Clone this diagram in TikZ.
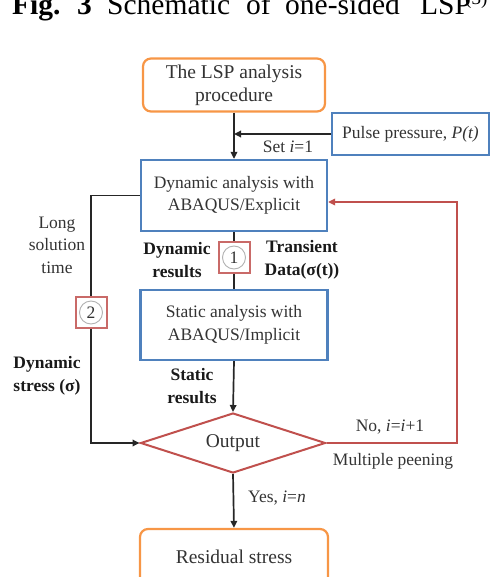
\documentclass[tikz,border=0pt]{standalone}
\usepackage{fontspec}
\setmainfont{Liberation Serif}
\usetikzlibrary{arrows.meta,shapes.geometric}
\definecolor{boxorange}{HTML}{F79646}
\definecolor{boxblue}{HTML}{4F81BD}
\definecolor{boxred}{HTML}{C0504D}
\definecolor{txt}{HTML}{333333}
\definecolor{linec}{HTML}{262626}
\newcommand\fntS{\fontsize{17.5}{22.5}\selectfont}
\newcommand\fntL{\fontsize{19.5}{23}\selectfont}
\newcommand\fntT{\fontsize{29.5}{32}\selectfont}
\begin{document}
\begin{tikzpicture}[x=1pt,y=-1pt,
  rbox/.style={draw=boxorange, line width=2.2pt, rounded corners=8pt, fill=white, text=txt, align=center, inner sep=0pt, font=\fntL},
  bbox/.style={draw=boxblue, line width=2.2pt, fill=white, text=txt, align=center, inner sep=0pt, font=\fntS},
  numbox/.style={draw=boxred!85, line width=2pt, fill=white, minimum width=31pt, minimum height=31pt, inner sep=0pt},
  numcirc/.style={circle, draw=gray!60, line width=0.9pt, minimum size=23pt, inner sep=0pt, text=txt, font=\fntS},
  conn/.style={draw=linec, line width=1.7pt},
  arr/.style={conn, -{Triangle[length=7pt,width=6.5pt]}},
  rarr/.style={draw=boxred, line width=1.9pt, -{Triangle[length=7pt,width=6.5pt]}},
  lbl/.style={text=txt, align=center, font=\fntS, inner sep=0pt},
  blbl/.style={text=black!90, align=center, font=\fntS\bfseries, inner sep=0pt},
  ttl/.style={text=black, font=\fntT, inner sep=0pt, anchor=base west}
]
\useasboundingbox (0,0) rectangle (490,577);
\clip (0,0) rectangle (490,577);

% title
\node[ttl] (t1) at (12,15) {\bfseries Fig.};
\node[ttl] (t2) at (77,15) {\bfseries 3};
\node[ttl] (t3) at (107,15) {Schematic};
\node[ttl] (t4) at (246,15) {of};
\node[ttl] (t5) at (285,15) {one-sided};
\node[ttl] (t6) at (420,15) {LSP};
\node[ttl, font=\fontsize{19}{20}\selectfont] (t7) at (465,5) {(3)};

% boxes
\node[rbox, minimum width=182pt, minimum height=53pt] (lsp) at (234,85) {The LSP analysis\\procedure};
\node[bbox, minimum width=157pt, minimum height=42pt] (pulse) at (410.5,134) {Pulse pressure, \textit{P(t)}};
\node[bbox, minimum width=186pt, minimum height=71pt] (dyn) at (234,195.5) {Dynamic analysis with\\ABAQUS/Explicit};
\node[bbox, minimum width=187pt, minimum height=70pt] (stat) at (234,325) {Static analysis with\\ABAQUS/Implicit};
\node[diamond, draw=boxred, line width=2pt, fill=white, aspect=3, minimum width=185pt, minimum height=60pt, inner sep=0pt, text=txt, font=\fntL] (out) at (233,443) {Output};
\node[rbox, minimum width=188pt, minimum height=56pt] (res) at (234,557) {Residual stress};

% connectors
\draw[arr] (lsp.south) -- (dyn.north);
\draw[arr] (pulse.west) -- (pulse.west -| lsp.south);
\draw[conn] (dyn.south) -- (stat.north);
\draw[arr] (stat.south) -- (out.north);
\draw[arr] (out.south) -- (res.north);
\coordinate (lt) at (91,300);
\draw[arr] (dyn.west) -- (dyn.west -| lt) |- (out.west);
\coordinate (rt) at (457,202);
\draw[rarr] (out.east) -| (rt) -- (rt -| dyn.east);

% numbered markers
\node[numbox] (b1) at (234,257.5) {};
\node[numcirc] (c1) at (b1) {1};
\node[numbox] (b2) at (91,312.5) {};
\node[numcirc] (c2) at (b2) {2};

% labels
\node[lbl] (l1) at (288,147) {Set \textit{i}=1};
\node[lbl] (l2) at (57,245) {Long\\solution\\time};
\node[blbl] (l3) at (47,376) {Dynamic\\stress (σ)};
\node[blbl] (l4) at (177,260) {Dynamic\\results};
\node[blbl] (l5) at (302,260) {Transient\\Data(σ(t))};
\node[blbl] (l6) at (192,386) {Static\\results};
\node[lbl] (l7) at (390,427) {No, \textit{i}=\textit{i}+1};
\node[lbl] (l8) at (393,461) {Multiple peening};
\node[lbl] (l9) at (277,498) {Yes, \textit{i}=\textit{n}};
\end{tikzpicture}
\end{document}
